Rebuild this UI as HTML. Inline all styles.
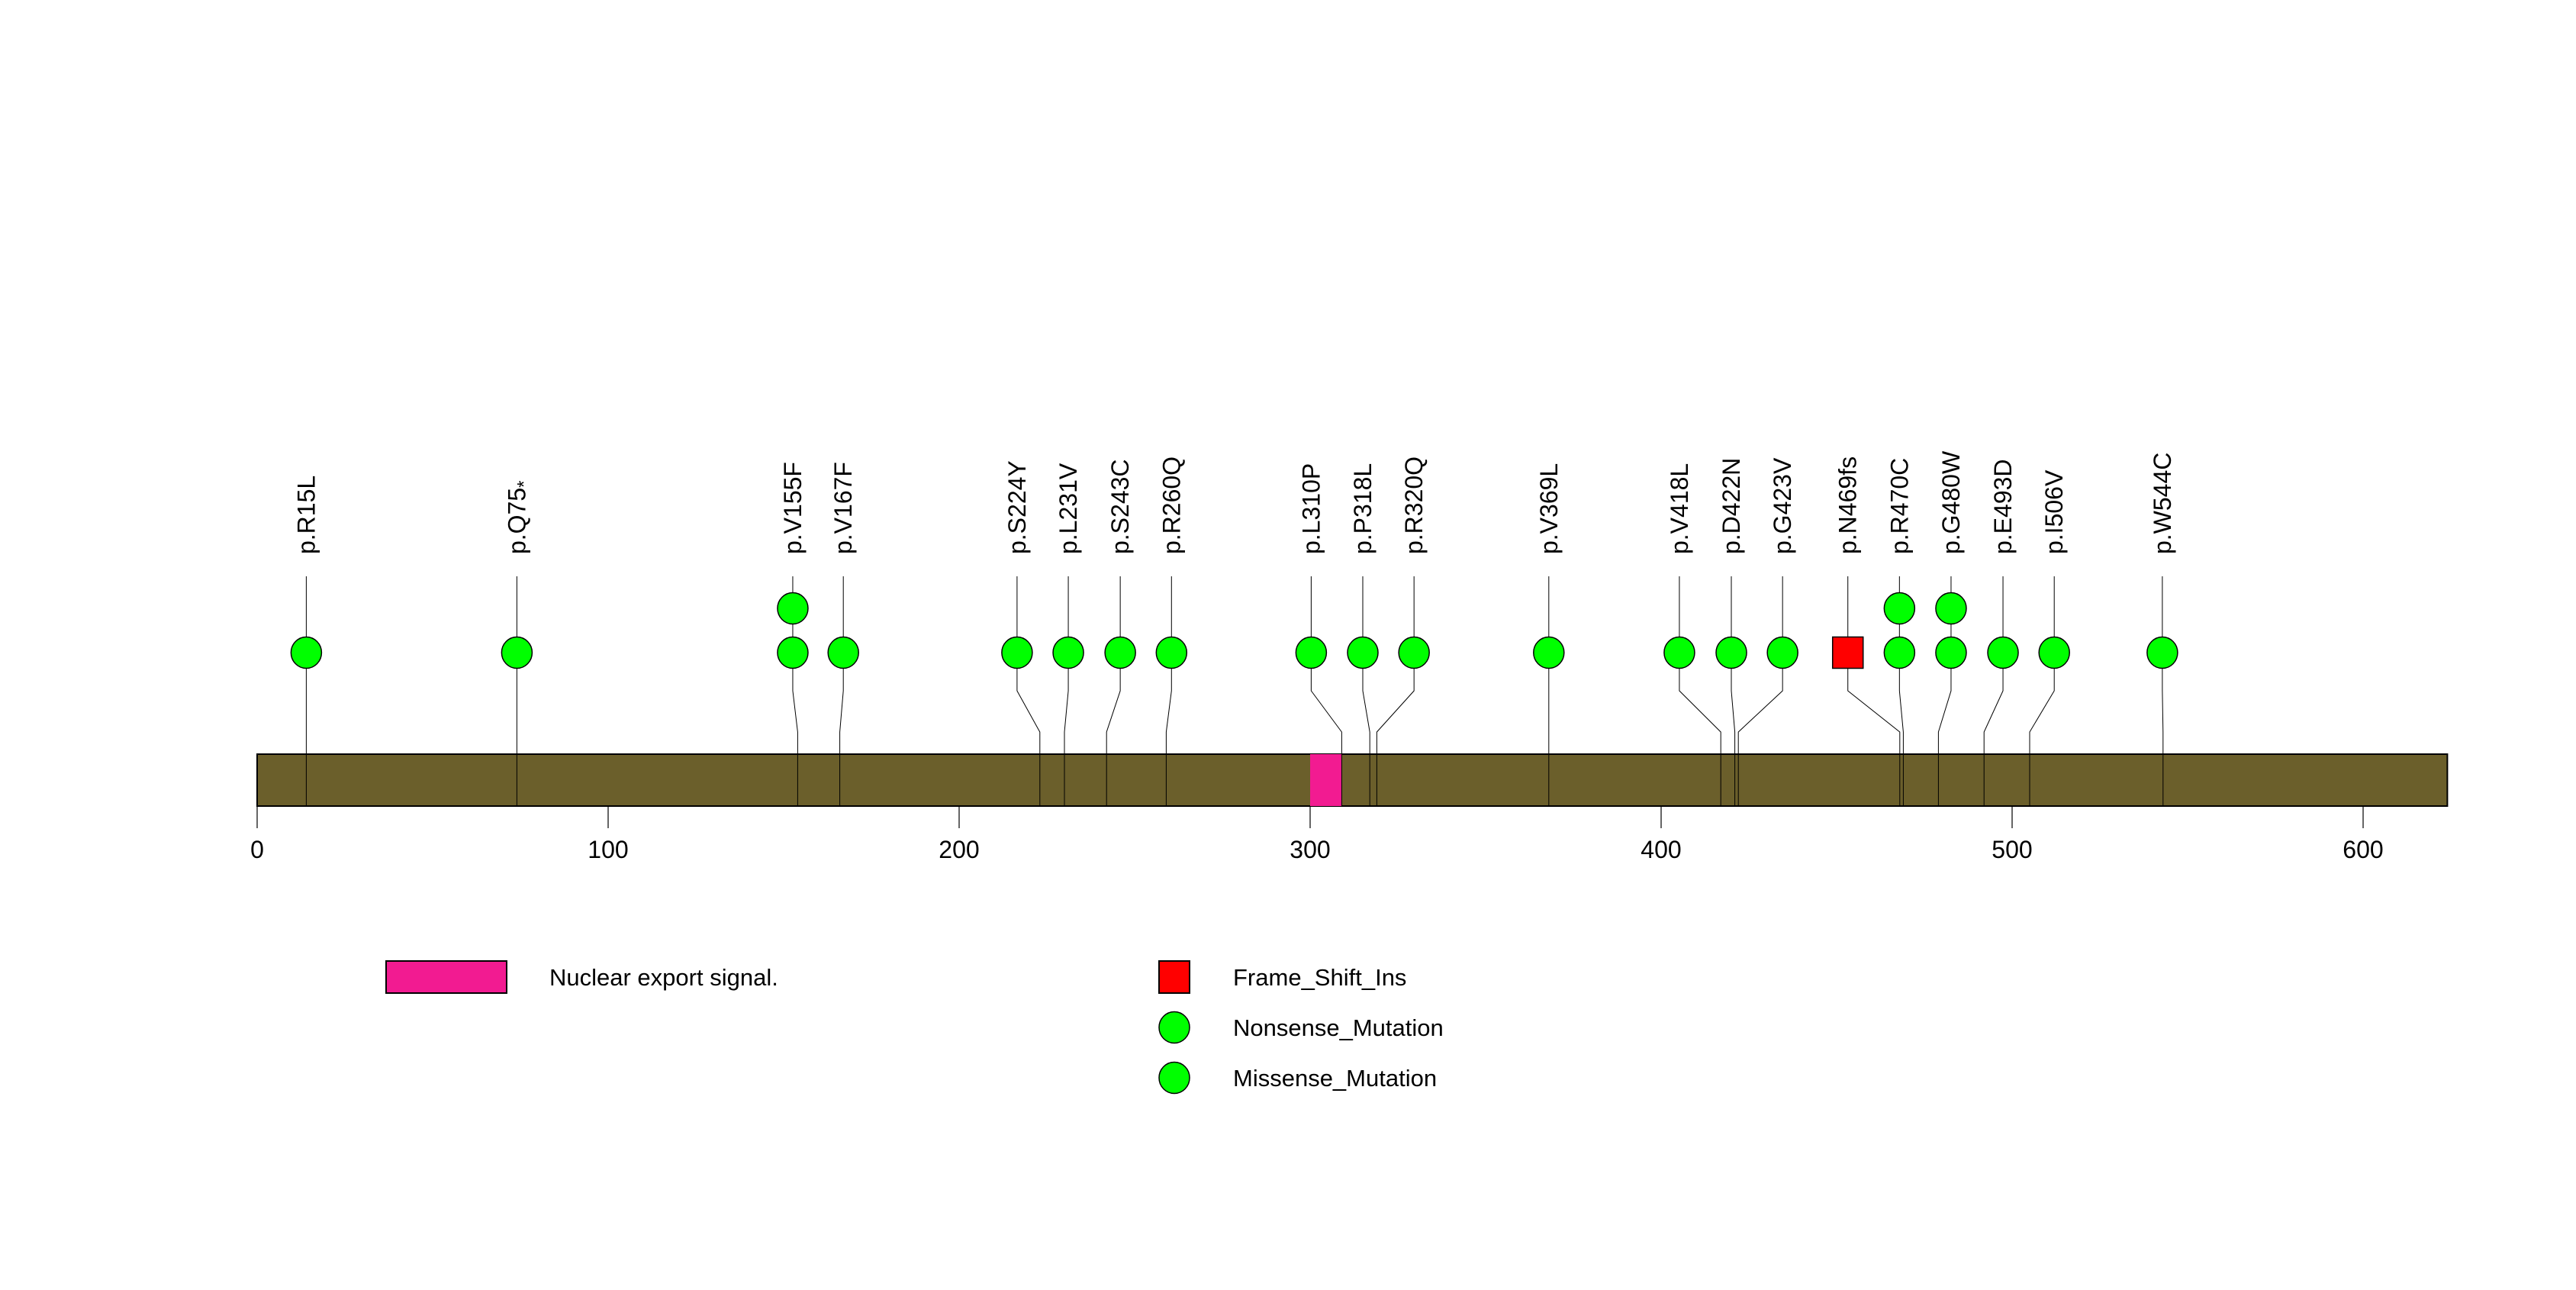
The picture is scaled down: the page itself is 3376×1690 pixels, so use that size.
<!DOCTYPE html>
<html><head><meta charset="utf-8"><style>
html,body{margin:0;padding:0;background:#fff;}
svg{display:block;font-family:"Liberation Sans",Arial,sans-serif;}
</style></head><body>
<svg id="chart" width="3376" height="1690" viewBox="0 0 3376 1690" xmlns="http://www.w3.org/2000/svg">
<g id="main"></g>
<g id="legend">
  <rect x="506" y="1259" width="158" height="42" fill="#F21B91" stroke="#000" stroke-width="2"/>
  <text x="720" y="1291" font-size="31">Nuclear export signal.</text>
  <rect x="1519" y="1259" width="40" height="42" fill="#FF0000" stroke="#000" stroke-width="2"/>
  <text x="1616" y="1291" font-size="31">Frame_Shift_Ins</text>
  <ellipse cx="1539" cy="1346" rx="20" ry="20.5" fill="#00FF00" stroke="#000" stroke-width="1.5"/>
  <text x="1616" y="1357" font-size="31">Nonsense_Mutation</text>
  <ellipse cx="1539" cy="1412" rx="20" ry="20.5" fill="#00FF00" stroke="#000" stroke-width="1.5"/>
  <text x="1616" y="1423" font-size="31">Missense_Mutation</text>
</g>
</svg>
<script>
const proteinLength = 624;
const tickValues = [0, 100, 200, 300, 400, 500, 600];
const domainNames = ["Nuclear export signal."];
const domainStarts = [300];
const domainEnds = [309];
const mutLabels = ["p.R15L","p.Q75","p.V155F","p.V167F","p.S224Y","p.L231V","p.S243C","p.R260Q","p.L310P","p.P318L","p.R320Q","p.V369L","p.V418L","p.D422N","p.G423V","p.N469fs","p.R470C","p.G480W","p.E493D","p.I506V","p.W544C"];
const mutResidues = [15,75,155,167,224,231,243,260,310,318,320,369,418,422,423,469,470,480,493,506,544];
const mutDisplay = [14,74,152.6,167,216.5,231.1,245.9,260.5,300.3,315,329.6,368,405.2,420,434.6,453.2,467.9,482.6,497.4,512,542.8];
const mutCounts = [1,1,2,1,1,1,1,1,1,1,1,1,1,1,1,1,2,2,1,1,1];
const mutTypes = ["mis","non","mis","mis","mis","mis","mis","mis","mis","mis","mis","mis","mis","mis","mis","fs","mis","mis","mis","mis","mis"];

const NS = "http://www.w3.org/2000/svg";
const X0 = 337, PX = 4.6;
function xScale(v){ return X0 + PX * v; }
function pos(res){ return xScale(res - 1); }
const barTop = 988, barBot = 1056;
const g = document.getElementById("main");
function mk(tag, attrs, parent){
  const e = document.createElementNS(NS, tag);
  for (const k in attrs) e.setAttribute(k, attrs[k]);
  (parent || g).appendChild(e);
  return e;
}
const bar = mk("rect", {x: xScale(0), y: barTop, width: xScale(proteinLength) - xScale(0), height: barBot - barTop, fill: "#6B5F2B", stroke: "#000", "stroke-width": 2});


domainStarts.forEach((s, i) => {
  const d = mk("rect", {x: xScale(s), y: barTop, width: xScale(domainEnds[i]) - xScale(s), height: barBot - barTop, fill: "#F21B91"});
  
  
});
tickValues.forEach(t => {
  const l = mk("line", {x1: xScale(t), x2: xScale(t), y1: barBot, y2: 1085, stroke: "#000", "stroke-width": 1.2});
  
  
  const tx = mk("text", {x: xScale(t), y: 1124, "font-size": 32, "text-anchor": "middle"});
  tx.textContent = t;
  
  
});
mutLabels.forEach((lab, i) => {
  const dx = xScale(mutDisplay[i]);
  const rx = pos(mutResidues[i]);
  const stem = mk("polyline", {points: `${dx},755 ${dx},905 ${rx},959 ${rx},${barBot}`, fill: "none", stroke: "#000", "stroke-width": 1});
  
  
  for (let k = 0; k < mutCounts[i]; k++) {
    const cy = 855 - k * 58;
    let m;
    if (mutTypes[i] === "fs") {
      m = mk("rect", {x: dx - 20, y: cy - 20.5, width: 40, height: 41, fill: "#FF0000", stroke: "#000", "stroke-width": 1.5});
    } else {
      m = mk("ellipse", {cx: dx, cy: cy, rx: 20, ry: 20.5, fill: "#00FF00", stroke: "#000", "stroke-width": 1.5});
    }
    
    
  }
  const bx = dx + 11, by = 726;
  const t = mk("text", {x: bx, y: by, "font-size": 32, transform: `rotate(-90 ${bx} ${by})`});
  t.textContent = lab;
  if (lab === "p.Q75") {
    const ts = document.createElementNS(NS, "tspan");
    ts.setAttribute("dy", "6");
    ts.setAttribute("font-size", "24");
    ts.textContent = "*";
    t.appendChild(ts);
  }
  
  
});
</script>
</body></html>
